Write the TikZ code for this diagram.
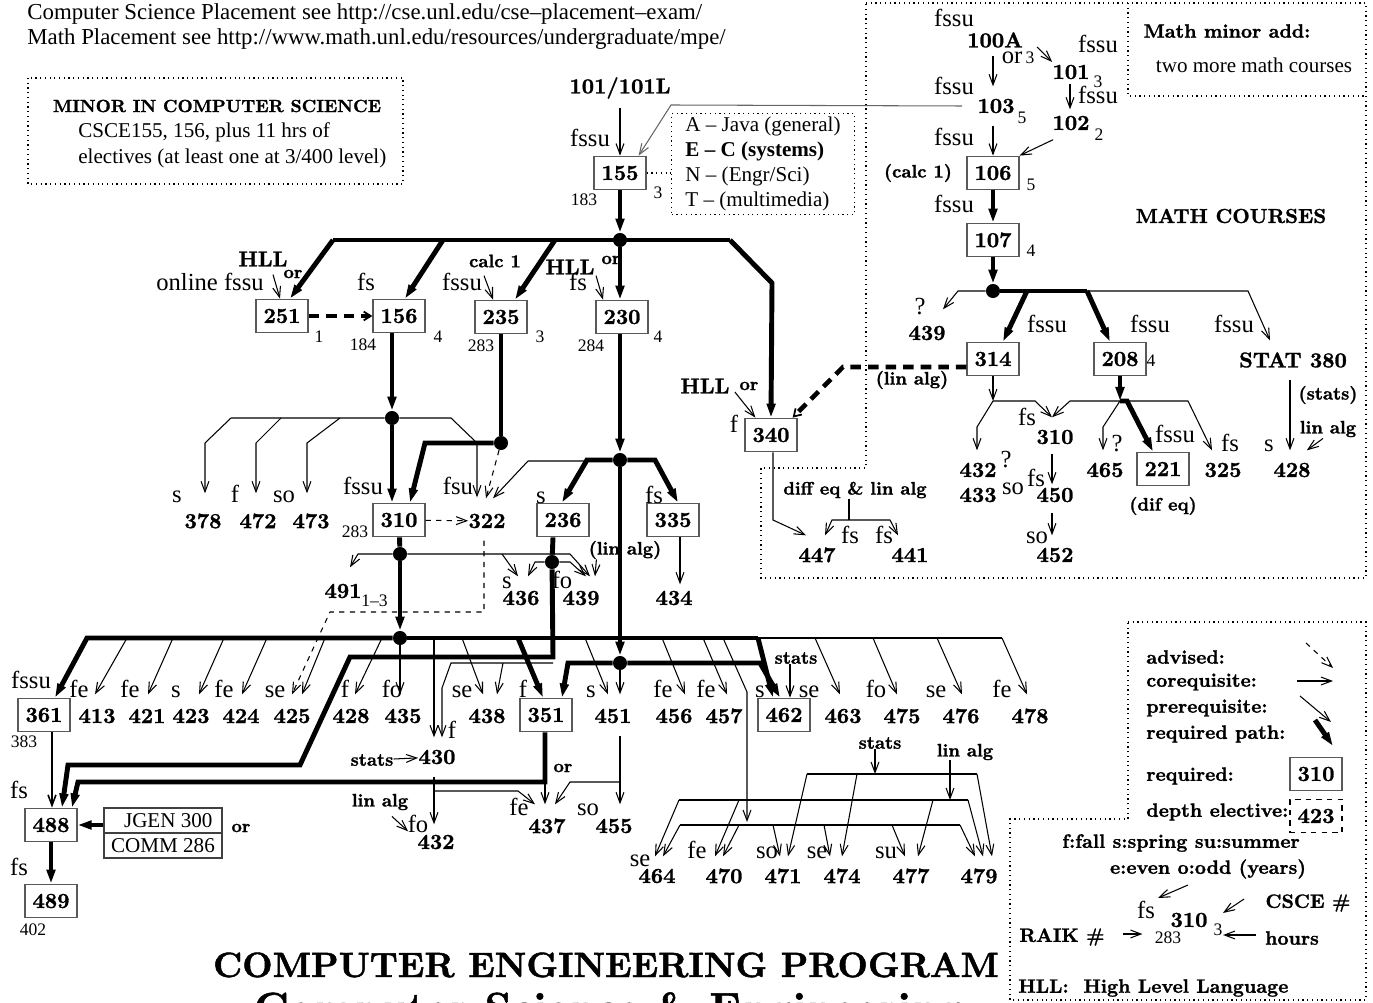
\documentclass[tikz,border=0pt]{standalone}
\usepackage{fontspec}
\setmainfont{lmroman10-regular.otf}[BoldFont=lmroman10-bold.otf, BoldFeatures={FakeBold=1.3}]
\newfontfamily\timesfont{Liberation Serif}
\usetikzlibrary{arrows.meta,calc}
\newcommand\numfont{\bfseries\fontsize{12.2}{14}\selectfont}
\newcommand\termfont{\timesfont\fontsize{14}{16}\selectfont}
\newcommand\hrsfont{\timesfont\fontsize{10}{12}\selectfont}
\newcommand\notefont{\bfseries\fontsize{10.3}{12}\selectfont}
\newcommand\plainfont{\timesfont\fontsize{12}{14.2}\selectfont}
\newcommand\keyfont{\bfseries\fontsize{11}{13}\selectfont}
\tikzset{
  course/.style={font=\numfont, inner sep=0pt, minimum height=22pt},
  reqbox/.style={draw=black!65, line width=0.8pt, font=\numfont, inner sep=0pt,
                 minimum width=29.5pt, minimum height=19pt},
  electbox/.style={reqbox, draw=black, dashed},
  plainbox/.style={draw=black!75, line width=0.8pt, font=\plainfont, inner sep=0pt,
                   minimum width=67pt, minimum height=14.2pt},
  term/.style={font=\termfont, inner sep=0pt},
  hrs/.style={font=\hrsfont, inner sep=0pt},
  note/.style={font=\notefont, inner sep=0pt},
  key/.style={font=\keyfont, inner sep=0pt},
  junction/.style={circle, fill, inner sep=0pt, minimum size=8pt},
  pre/.style={draw, line width=0.6pt, -{Straight Barb[length=6pt,width=4.5pt]}},
  adv/.style={pre, dashed},
  req/.style={draw, line width=2.8pt, -{Triangle[length=8pt,width=4.8pt]}},
  reqline/.style={draw, line width=2.8pt},
  advreq/.style={draw, line width=2.6pt, dash pattern=on 6pt off 4pt,
                 -{Straight Barb[length=4pt,width=5pt,line width=1pt]}},
  bus/.style={draw, line width=0.6pt},
  frame/.style={draw, dotted, line width=0.7pt}
}

\begin{document}
\begin{tikzpicture}[x=0.02cm, y=-0.02cm]
  \useasboundingbox (0,0) rectangle (1373,1003);

  % placement notes and minor
  \node[font=\timesfont\fontsize{13}{15}\selectfont, anchor=base west, inner sep=0pt] (hdrcse)
    at (27,20) {Computer Science Placement see http://cse.unl.edu/cse–placement–exam/};
  \node[font=\timesfont\fontsize{13}{15}\selectfont, anchor=base west, inner sep=0pt] (hdrmath)
    at (27,45) {Math Placement see http://www.math.unl.edu/resources/undergraduate/mpe/};
  \draw[frame] (28,78) rectangle (403,184);
  \node[font=\bfseries\fontsize{10}{12}\selectfont, inner sep=0pt] (minorhd) at (217,106) {MINOR IN COMPUTER SCIENCE};
  \node[font=\plainfont, anchor=west, inner sep=0pt] (minora) at (78,132) {CSCE155, 156, plus 11 hrs of};
  \node[font=\plainfont, anchor=west, inner sep=0pt] (minorb) at (78,158) {electives (at least one at 3/400 level)};

  % math frames
  \draw[frame] (866,3) -- (1366,3) -- (1366,578) -- (761,578) -- (761,468) -- (866,468) -- cycle;
  \draw[frame] (1128,3) -- (1128,96) -- (1366,96);
  \node[key] (mminor) at (1227,31) {Math minor add:};
  \node[font=\plainfont, inner sep=0pt] (mminorb) at (1254,65) {two more math courses};
  \node[font=\bfseries\fontsize{11.5}{13}\selectfont, inner sep=0pt] (mathhd) at (1231,216) {MATH COURSES};

  % CSCE courses
  \node[course] (c101L) at (620,88) {101/101L};
  \node[reqbox] (c155) at (620,173) {155};
  \node[draw, dotted, line width=0.7pt, font=\plainfont, align=left, anchor=north west,
        minimum width=104pt, minimum height=57.5pt, inner sep=0pt] (lang) at (671,113)
    {A – Java (general)\\{\bfseries E – C (systems)}\\N – (Engr/Sci)\\T – (multimedia)};
  \node[junction] (j155) at (620,240) {};
  \node[reqbox] (c251) at (282,316) {251};
  \node[reqbox] (c156) at (399,316) {156};
  \node[reqbox] (c235) at (501,317) {235};
  \node[reqbox] (c230) at (622,317) {230};
  \node[reqbox] (c340) at (771,435) {340};
  \node[reqbox] (c310) at (399,520) {310};
  \node[course] (c322) at (487,521) {322};
  \node[reqbox] (c236) at (563,520) {236};
  \node[reqbox] (c335) at (673,520) {335};
  \foreach \n/\x in {378/203, 472/258, 473/311}
    \node[course] (c\n) at (\x,521) {\n};
  \node[course] (c491) at (343,591) {491};
  \node[hrs, anchor=west] (h491) at (361,601) {1–3};
  \node[course] (c436) at (521,598) {436};
  \node[course] (c439) at (581,598) {439};
  \node[course] (c434) at (674,598) {434};
  \node[course] (c447) at (817,555) {447};
  \node[course] (c441) at (910,555) {441};
  \node[reqbox] (c361) at (44,715) {361};
  \foreach \n/\x in {413/97, 421/147, 423/191, 424/241, 425/292, 428/351, 435/403, 438/487,
                     451/613, 456/674, 457/724, 463/843, 475/902, 476/961, 478/1030}
    \node[course] (c\n) at (\x,716) {\n};
  \node[reqbox] (c351) at (546,715) {351};
  \node[reqbox] (c462) at (784,715) {462};
  \node[course] (c430) at (437,757) {430};
  \node[course] (c432) at (436,842) {432};
  \node[course] (c437) at (547,826) {437};
  \node[course] (c455) at (614,826) {455};
  \foreach \n/\x in {464/657, 470/724, 471/783, 474/842, 477/911, 479/979}
    \node[course] (c\n) at (\x,876) {\n};
  \node[reqbox] (c488) at (51,825) {488};
  \node[reqbox] (c489) at (51,901) {489};
  \node[plainbox] (jgen) at (163,820.5) {\hspace*{6pt}JGEN 300};
  \node[plainbox] (comm) at (163,845.5) {COMM 286};

  % math courses
  \node[course] (m100A) at (995,40) {100A};
  \node[course] (m101) at (1071,72) {101};
  \node[course] (m103) at (996,106) {103};
  \node[course] (m102) at (1071,123) {102};
  \node[reqbox] (m106) at (993,173) {106};
  \node[reqbox] (m107) at (993,240) {107};
  \node[junction] (j107) at (993,291) {};
  \node[course] (m439) at (927,333) {439};
  \node[reqbox] (m314) at (993,359) {314};
  \node[reqbox] (m208) at (1120,359) {208};
  \node[course] (stat380) at (1293,360) {STAT 380};
  \node[course] (m432) at (978,470) {432};
  \node[course] (m433) at (978,495) {433};
  \node[course] (m310) at (1055,437) {310};
  \node[course] (m450) at (1055,495) {450};
  \node[course] (m452) at (1055,555) {452};
  \node[course] (m465) at (1105,470) {465};
  \node[reqbox] (m221) at (1163,469) {221};
  \node[course] (m325) at (1223,470) {325};
  \node[course] (m428) at (1292,470) {428};

  % offered terms
  \foreach \t/\x/\y [count=\i] in {fssu/590/147, online fssu/210/291, fs/366/291, fssu/462/291,
      fs/578/291, s/177/502, f/235/502, so/284/502, fssu/363/495, fsu/458/495, s/541/503,
      fs/654/503, s/507/588, fo/562/588, f/734/433, fs/850/543, fs/884/543, fssu/31/688,
      fe/79/697, fe/130/697, s/176/697, fe/224/697, se/275/697, f/345/697, fo/392/697,
      se/462/697, f/523/697, s/591/697, fe/663/697, fe/706/697, s/760/697, se/809/697,
      fo/876/697, se/936/697, fe/1002/697, f/452/738, fe/519/815, so/588/815, fo/418/832,
      fs/19/798, fs/19/875, se/640/866, fe/697/858, so/767/858, se/817/858, su/886/858,
      fssu/954/27, or/1012/64, fssu/1098/53, fssu/954/95, fssu/1098/104, fssu/954/146,
      fssu/954/213, ?/920/315, fssu/1047/333, fssu/1150/333, fssu/1234/333, fs/1027/426,
      ?/1117/452, fssu/1175/443, fs/1230/452, s/1269/452, ?/1006/468, so/1013/495,
      fs/1036/486, so/1037/543}
    \node[term, anchor=base] (sea\i) at (\x,\y) {\t};

  % credit hours and RAIK numbers
  \foreach \t/\x/\y [count=\i] in {183/584/200, 3/658/193, 1/319/337, 184/363/345, 4/438/337,
      283/481/346, 3/540/337, 284/591/346, 4/658/337, 283/355/532, 383/24/742, 402/33/930,
      3/1030/58, 3/1098/82, 5/1022/118, 2/1099/135, 5/1031/185, 4/1031/251, 4/1151/361}
    \node[hrs] (hr\i) at (\x,\y) {\t};

  % notes
  \node[course] (hll251) at (263,259) {HLL};
  \node[note] (or251) at (293,274) {or};
  \node[note] (calc235) at (495,261) {calc 1};
  \node[course] (hll230) at (570,267) {HLL};
  \node[note] (or230) at (611,260) {or};
  \node[course] (hll340) at (705,386) {HLL};
  \node[note] (or340) at (749,386) {or};
  \node[note] (la439) at (625,550) {(lin alg)};
  \node[note] (de447) at (855,490) {diff eq \& lin alg};
  \node[note] (st462) at (796,658) {stats};
  \node[note] (or437) at (563,768) {or};
  \node[note] (st430) at (372,760) {stats};
  \node[note] (la432) at (380,802) {lin alg};
  \node[note] (or488) at (241,828) {or};
  \node[note] (st47) at (880,743) {stats};
  \node[note] (la47) at (965,752) {lin alg};
  \node[note] (calc106) at (918,173) {(calc 1)};
  \node[note] (la314) at (912,380) {(lin alg)};
  \node[note] (st380) at (1328,395) {(stats)};
  \node[note] (la428) at (1328,429) {lin alg};
  \node[note] (de221) at (1163,506) {(dif eq)};

  % 155 and the first bus
  \draw[pre] (c101L) -- (c155);
  \draw[dotted, line width=0.7pt] (c155.east) -- (c155.east -| lang.west);
  \draw[pre, black!60] ($(m103.west)+(-15,0)$) -- (671,105) -- ($(c155.north east)+(-8,0)$);
  \draw[req] (c155) -- (j155);
  \draw[reqline] (333,240) -- (730,240);
  \draw[req] (730,240) -- (772,283) -- (c340.north);
  \draw[req] (333,240) -- ($(c251.north)+(8,0)$);
  \draw[req] (443,240) -- ($(c156.north)+(6,0)$);
  \draw[req] (555,240) -- ($(c235.north)+(14,0)$);
  \draw[req] (j155) -- ($(c230.north)+(-2,0)$);
  \draw[pre] ($(c251.north)+(-9,-24)$) -- ($(c251.north)+(-2,0)$);
  \draw[pre] ($(c235.north)+(-17,-24)$) -- ($(c235.north)+(-8,0)$);
  \draw[pre] ($(c230.north)+(-26,-24)$) -- ($(c230.north)+(-19,0)$);
  \draw[advreq] (c251) -- (c156);

  % 156, 235, 230 columns
  \node[junction] (j156) at (392,418) {};
  \node[junction] (j235) at (501,443) {};
  \node[junction] (j230) at (620,460) {};
  \node[junction] (j310a) at (400,554) {};
  \node[junction] (j236) at (552,562) {};
  \node[junction] (j310b) at (400,638) {};
  \node[junction] (j351) at (620,663) {};
  \draw[req] ($(c156.south)+(-7,0)$) -- (j156);
  \draw[req] (j156) -- ($(c310.north)+(-7,0)$);
  \draw[pre] (j156) -- (231,418) -- (205,443) -- ($(c378.north)+(2,-8)$);
  \draw[pre] (281,418) -- (256,443) -- ($(c472.north)+(-2,-8)$);
  \draw[pre] (340,418) -- (307,443) -- ($(c473.north)+(-4,-8)$);
  \draw[pre] (j156) -- (451,418) -- (477,443) -- ($(c322.north)+(-10,-4)$);
  \draw[reqline] (c235) -- (j235);
  \draw[req] (j235) -- (425,443) -- ($(c310.north)+(11,0)$);
  \draw[adv] (j235) -- ($(c322.north)+(-1,-3)$);
  \draw[adv] (c310) -- (c322);
  \draw[req] ($(c230.south)+(-2,0)$) -- (j230);
  \draw[req] (j230) -- (587,460) -- ($(c236.north)+(-1,0)$);
  \draw[req] (j230) -- (655,460) -- ($(c335.north)+(5,0)$);
  \draw[pre] (587,461) -- (528,461) -- ($(c322.north)+(6,-3)$);
  \draw[pre] ($(c335.south)+(7,0)$) -- ($(c434.north)+(6,6)$);
  \draw[req] (j230) -- (j351);

  % 310 and 236
  \draw[reqline] (c310) -- (j310a);
  \draw[req] (j310a) -- (j310b);
  \draw[pre] (j310a) -- (358,554) -- ($(c491.north)+(7,-4)$);
  \draw[pre] (j310a) -- (570,554) -- ($(c439.north)+(9,-2)$);
  \draw[pre] (502,554) -- ($(c436.north)+(-3,-2)$);
  \draw[reqline] ($(c236.south)+(-10,0)$) -- (j236);
  \draw[pre] (j236) -- (535,562) -- ($(c436.north)+(7,-2)$);
  \draw[pre] (j236) -- (570,562) -- ($(c439.north)+(5,-2)$);
  \draw[pre] ($(la439.south west)+(8,0)$) -- ($(c439.north)+(14,-2)$);
  \draw[req] (j236) -- (553,657) -- (350,657) -- (300,765) -- (68,765) -- ($(c488.north)+(11,0)$);
  \draw[pre] (553,663) -- (451,663) -- (442,688) -- ($(c430.north)+(5,0)$);
  \draw[pre] (503,663) -- ($(c438.north)+(10,-2)$);
  \draw[adv] ($(c322.south)+(-3,0)$) -- (484,612) -- (330,612) -- ($(c425.north)+(0,-2)$);

  % electives bus
  \draw[req] (j310b) -- (87,638) -- ($(c361.north)+(11,0)$);
  \draw[reqline] (j310b) -- (758,638);
  \draw[req] (758,638) -- ($(c462.north)+(-11,0)$);
  \draw[req] (518,638) -- ($(c351.north)+(-3,0)$);
  \draw[bus] (758,638) -- (1002,638);
  \foreach \x/\n/\dx in {127/413/-2, 173/421/1, 224/423/8, 267/424/1, 325/425/10, 382/428/4,
                         462/438/-4, 585/451/-5, 662/456/11, 703/457/3, 815/463/-3,
                         873/475/-5, 937/476/1, 1002/478/-3}
    \draw[pre] (\x,638) -- ($(c\n.north)+(\dx,-2)$);
  \draw[pre] (j310b) -- ($(c435.north)+(-3,-2)$);
  \draw[pre] (434,638) -- ($(c430.north)+(-3,0)$);
  \coordinate (cbus) at (747,822);
  \draw[pre] (723,638) -- (747,692) -- (cbus);
  \draw[req] (j351) -- (568,663) -- ($(c351.north)+(16,0)$);
  \draw[req] (j351) -- (760,663) -- ($(c462.north)+(-4,0)$);
  \draw[pre] (j351) -- ($(c451.north)+(7,-2)$);
  \draw[pre] ($(st462.south)+(-6,0)$) -- ($(c462.north)+(6,0)$);

  % 351, 430, 437
  \draw[req] ($(c351.south)+(-1,0)$) -- (545,782) -- (78,782) -- ($(c488.north)+(21,0)$);
  \draw[pre] (545,782) -- ($(c437.north)+(-2,-2)$);
  \draw[pre] ($(c451.south)+(7,0)$) -- ($(c455.north)+(6,-2)$);
  \draw[pre] (620,782) -- (570,782) -- ($(c437.north)+(8,-2)$);
  \draw[pre] ($(c430.south)+(-3,0)$) -- ($(c432.north)+(-2,2)$);
  \draw[pre] (434,791) -- (518,791) -- ($(c437.north)+(-12,-2)$);
  \draw[pre] (st430) -- (c430);
  \draw[pre] ($(la432.south)+(12,6)$) -- ($(c432.north west)+(-9,9)$);

  % capstone
  \draw[pre, line width=0.9pt] ($(c361.south)+(8,0)$) -- ($(c488.north)+(1,0)$);
  \draw[req] (c488.east -| jgen.west) -- (c488.east);
  \draw[req] (c488) -- (c489);

  % 464--479 group
  \coordinate (sbus) at (875,774);
  \coordinate (lbus) at (950,800);
  \draw[pre] ($(st47.south)+(-5,0)$) -- (sbus);
  \draw[pre] ($(la47.south)+(-15,0)$) -- (lbus);
  \draw[bus] (807,774) -- (977,774);
  \draw[bus] (679,800) -- (968,800);
  \draw[bus] (680,825) -- (960,825);
  \foreach \x/\y/\n/\dx in {807/774/471/5, 857/774/474/0, 977/774/479/13, 679/800/464/-2,
                            739/800/470/-9, 933/800/477/7, 968/800/479/4, 680/825/464/6,
                            739/825/470/-1, 773/825/471/-3, 824/825/474/-12,
                            892/825/477/-6, 960/825/479/-4}
    \draw[pre] (\x,\y) -- ($(c\n.north)+(\dx,0)$);

  % 340
  \draw[pre] ($(hll340.east)+(5,6)$) -- ($(c340.north west)+(11,0)$);
  \draw[advreq] ($(m314.west)+(0,8)$) -- (843,367) -- ($(c340.north east)+(-5,0)$);
  \draw[pre] ($(c340.south)+(2,0)$) -- (773,520) -- ($(c447.north)+(-11,0)$);
  \draw[bus] ($(de447.south)+(-6,0)$) -- (849,520);
  \draw[pre] (849,520) -- (832,520) -- ($(c447.north)+(8,0)$);
  \draw[pre] (849,520) -- (890,520) -- ($(c441.north)+(-12,0)$);

  % math
  \draw[pre] ($(m100A.south)+(-2,-4)$) -- ($(m103.north)+(-3,0)$);
  \draw[pre] ($(m100A.east)+(14,7)$) -- ($(m101.west)+(0,-10)$);
  \draw[pre] ($(m101.south)+(-1,-8)$) -- ($(m102.north)+(-1,6)$);
  \draw[pre] ($(m103.south)+(-3,0)$) -- (m106.north);
  \draw[pre] ($(m102.south west)+(1,-3)$) -- (m106.north east);
  \draw[req] (m106) -- (m107);
  \draw[req] (m107) -- (j107);
  \draw[pre] (j107) -- (958,291) -- ($(m439.north)+(16,-4)$);
  \draw[pre] (j107) -- (1248,291) -- ($(stat380.north)+(-23,0)$);
  \draw[reqline] (j107) -- (1087,291);
  \draw[req] (1027,291) -- ($(m314.north)+(10,0)$);
  \draw[req] (1087,291) -- ($(m208.north)+(-10,0)$);
  \coordinate (b314) at (993,401);
  \coordinate (b208) at (1120,401);
  \draw[pre] (m314) -- (b314);
  \draw[pre] (b314) -- (977,427) -- ($(m432.north)+(-1,0)$);
  \draw[pre] (b314) -- (1035,401) -- ($(m310.north)+(-3,0)$);
  \draw[req] (m208) -- (b208);
  \draw[req] (b208) -- (1127,401) -- ($(m221.north)+(-10,0)$);
  \draw[pre] (b208) -- (1070,401) -- ($(m310.north)+(-3,0)$);
  \draw[pre] (b208) -- (1103,427) -- ($(m465.north)+(-2,0)$);
  \draw[pre] (b208) -- (1188,401) -- ($(m325.north)+(-11,0)$);
  \draw[pre] ($(stat380.south)+(-3,0)$) -- ($(m428.north)+(-2,0)$);
  \draw[pre] ($(la428.south)+(-5,1)$) -- ($(m428.north east)+(-4,0)$);
  \draw[pre] ($(m310.south)+(-3,-3)$) -- ($(m450.north)+(-3,9)$);
  \draw[pre] ($(m450.south)+(-3,-2)$) -- ($(m452.north)+(-3,0)$);

  % key
  \draw[frame] (1128,622) -- (1366,622) -- (1366,1000) -- (1010,1000) -- (1010,819) -- (1128,819) -- cycle;
  \node[key, anchor=west] (kadv) at (1146,657) {advised:};
  \node[key, anchor=west] (kco) at (1146,682) {corequisite:};
  \node[key, anchor=west] (kpre) at (1146,708) {prerequisite:};
  \node[key, anchor=west] (kpath) at (1146,734) {required path:};
  \node[key, anchor=west] (kreqd) at (1146,776) {required:};
  \node[key, anchor=west] (kdepth) at (1146,812) {depth elective:};
  \draw[adv] (1306,643) -- (1333,668);
  \draw[pre] (1297,681) -- (1333,681);
  \draw[pre] (1300,696) -- (1331,722);
  \draw[req] (1315,720) -- (1333,746);
  \node[reqbox] (kreq) at (1316,774) {310};
  \node[electbox] (kdep) at (1316,816) {423};
  \node[key] (kseason) at (1181,843) {f:fall s:spring su:summer};
  \node[key] (kyear) at (1208,869) {e:even o:odd (years)};
  \node[term, anchor=base] (kfs) at (1146,918) {fs};
  \node[course] (k310) at (1189,920) {310};
  \node[hrs] (k3) at (1218,930) {3};
  \node[hrs] (k283) at (1168,938) {283};
  \node[key] (kcsce) at (1308,903) {CSCE \#};
  \node[key] (khours) at (1292,938) {hours};
  \node[key] (kraik) at (1062,937) {RAIK \#};
  \draw[pre] ($(kyear)+(-20,16)$) -- ($(kfs.base)+(12,-20)$);
  \draw[pre] ($(kcsce.west)+(-21,-4)$) -- ($(k3)+(5,-17)$);
  \draw[pre] ($(khours.west)+(-9,-3)$) -- ($(k3)+(5,5)$);
  \draw[pre] ($(kraik.east)+(18,-3)$) -- ($(k283.west)+(-12,-4)$);
  \node[key, anchor=west] (khll) at (1018,988) {HLL:\ \ High Level Language};

  % title
  \node[font=\bfseries\fontsize{20}{24}\selectfont, anchor=base, inner sep=0pt] (title)
    at (606,977) {COMPUTER ENGINEERING PROGRAM};
  \node[font=\bfseries\fontsize{24}{28}\selectfont, anchor=base, inner sep=0pt] (subtitle)
    at (608,1022) {Computer Science \& Engineering};
\end{tikzpicture}
\end{document}
